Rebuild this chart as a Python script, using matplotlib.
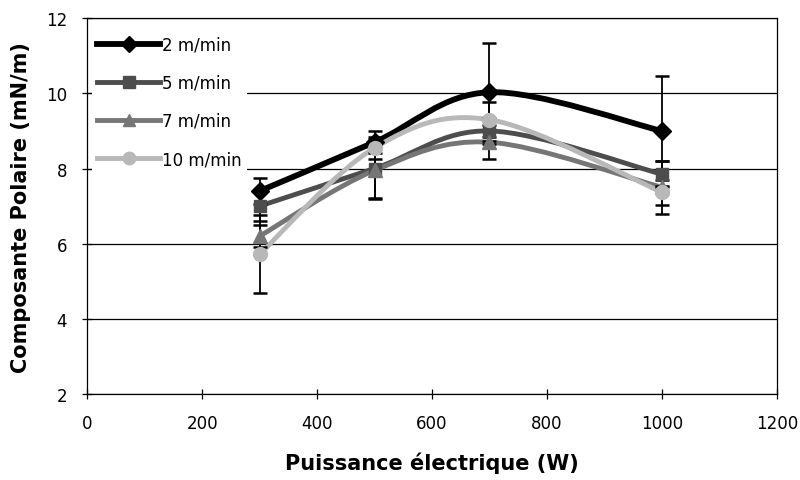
import numpy as np
import matplotlib
matplotlib.use("Agg")
import matplotlib.pyplot as plt
from matplotlib.path import Path
from matplotlib.patches import PathPatch
from matplotlib.lines import Line2D

plt.rcParams['font.family'] = ['DejaVu Sans']

# data
power = [300, 500, 700, 1000]
labels = ["2 m/min", "5 m/min", "7 m/min", "10 m/min"]
polar_2 = [7.4, 8.7, 10.03, 9.0]
polar_5 = [7.0, 8.0, 9.0, 7.85]
polar_7 = [6.2, 7.95, 8.7, 7.5]
polar_10 = [5.72, 8.55, 9.3, 7.37]
err_2 = [0.35, 0.3, 1.3, 1.46]
err_5 = [0.4, 0.78, 0.35, 0.35]
err_7 = [0.3, 0.75, 0.45, 0.7]
err_10 = [1.03, 0.3, 0.47, 0.33]

series = [polar_2, polar_5, polar_7, polar_10]
errors = [err_2, err_5, err_7, err_10]
colors = ["#000000", "#4d4d4d", "#767676", "#b8b8b8"]
markers = ["D", "s", "^", "o"]
msizes = [9.5, 9, 10, 10]
widths = [4.2, 3.5, 3.5, 3.5]


def smooth_path(x, y):
    # Excel-style smoothed line: cubic Bezier segments through the points
    pts = np.column_stack([x, y]).astype(float)
    n = len(pts)
    verts = [pts[0]]
    codes = [Path.MOVETO]
    for i in range(n - 1):
        p0 = pts[i - 1] if i > 0 else pts[i]
        p1 = pts[i]
        p2 = pts[i + 1]
        p3 = pts[i + 2] if i + 2 < n else pts[i + 1]
        c1 = p1 + (p2 - p0) / 6.0
        c2 = p2 - (p3 - p1) / 6.0
        verts += [c1, c2, p2]
        codes += [Path.CURVE4] * 3
    return Path(verts, codes)


fig = plt.figure(figsize=(8, 4.81), dpi=100)
ax = fig.add_axes([0.109, 0.179, 0.862, 0.781])

ax.set_xlim(0, 1200)
ax.set_ylim(2, 12)
ax.set_xticks(range(0, 1201, 200))
ax.set_yticks(range(2, 13, 2))
ax.yaxis.grid(True, color="black", linewidth=0.9)
ax.set_axisbelow(True)

handles = []
for vals, errs, c, m, ms, lw, lab in zip(series, errors, colors, markers, msizes, widths, labels):
    ax.add_patch(PathPatch(smooth_path(power, vals), facecolor="none", edgecolor=c,
                           linewidth=lw, capstyle="round", zorder=3))
    ax.errorbar(power, vals, yerr=errs, fmt="none", ecolor="black", elinewidth=1.3,
                capsize=5, capthick=1.8, zorder=4)
    ax.plot(power, vals, linestyle="none", marker=m, markersize=ms, color=c, zorder=5)
    handles.append(Line2D([], [], color=c, linewidth=lw, marker=m, markersize=ms - 1, label=lab))

for s in ax.spines.values():
    s.set_color("black")
    s.set_linewidth(0.9)

ax.tick_params(direction="inout", length=7, width=0.9, labelsize=12, pad=11)

ax.set_xlabel("Puissance électrique (W)", fontsize=15, fontweight="bold", labelpad=14)
ax.set_ylabel("Composante Polaire (mN/m)", fontsize=15, fontweight="bold", labelpad=11)

leg = ax.legend(handles=handles, loc="upper left", bbox_to_anchor=(0.007, 0.967),
                fontsize=12, frameon=True, facecolor="white", edgecolor="none",
                framealpha=1, handlelength=3.8, handletextpad=0.1, labelspacing=1.21,
                borderaxespad=0, borderpad=0.3)
leg.set_zorder(10)

fig.savefig("out.png", dpi=100)
